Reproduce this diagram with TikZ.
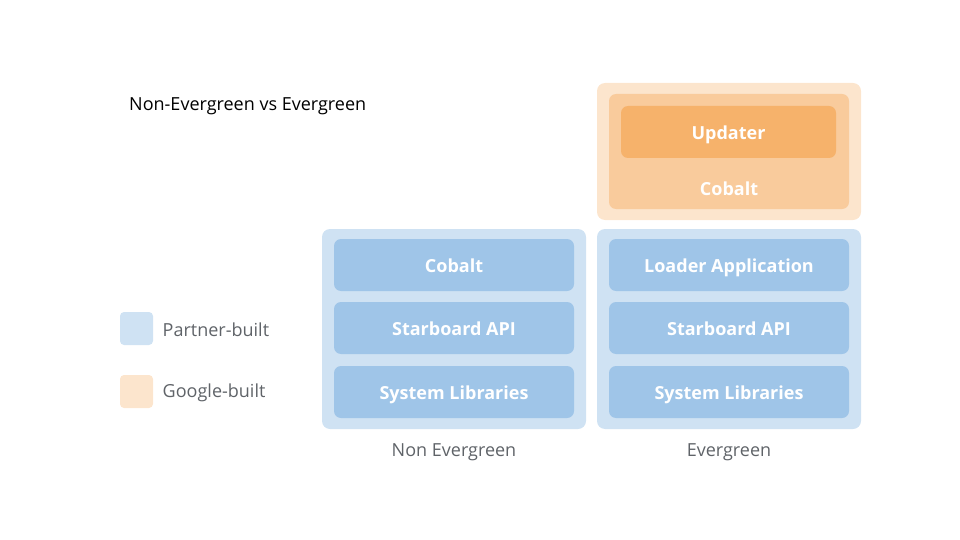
\documentclass[tikz,border=0pt]{standalone}
\usepackage{fontspec}
\setmainfont{Open Sans}
\usetikzlibrary{positioning}
\definecolor{partnerlight}{HTML}{CFE2F3}
\definecolor{partnerdark}{HTML}{9FC5E8}
\definecolor{googlelight}{HTML}{FCE5CD}
\definecolor{googlemid}{HTML}{F9CB9C}
\definecolor{googledark}{HTML}{F6B26B}
\definecolor{labelgray}{HTML}{5F6368}
\tikzset{
    %Define style for outer panels
    panel/.style={
           rectangle,
           rounded corners=8pt,
           minimum width=264pt,
           inner sep=0pt},
    %Define style for layer boxes
    layer/.style={
           rectangle,
           rounded corners=7pt,
           minimum width=240pt,
           minimum height=52pt,
           inner sep=0pt,
           text=white,
           font=\fontsize{18}{20}\selectfont\bfseries,
           text height=15pt,
           text depth=0pt,
           text centered},
    swatch/.style={
           rectangle,
           rounded corners=4pt,
           minimum size=33pt,
           inner sep=0pt},
    caption/.style={
           text=labelgray,
           font=\fontsize{18}{20}\selectfont}
}
\begin{document}
\begin{tikzpicture}[x=1pt,y=-1pt]
\useasboundingbox (0,0) rectangle (960,540);

 %title
\node[anchor=west, inner sep=0pt, font=\fontsize{18}{20}\selectfont] (title) at (129,106.5) {Non-Evergreen vs Evergreen};

 %non evergreen stack
\node[panel, fill=partnerlight, minimum height=200pt] (nonpanel) at (454,329) {};
\node[layer, fill=partnerdark] (noncobalt) at (454,265) {Cobalt};
\node[layer, fill=partnerdark] (nonapi) at (454,328) {Starboard API};
\node[layer, fill=partnerdark] (nonsys) at (454,392) {System Libraries};
\node[caption] (nonlabel) at (454,452.5) {Non Evergreen};

 %evergreen stack
\node[panel, fill=partnerlight, minimum height=200pt] (evpanel) at (729,329) {};
\node[layer, fill=partnerdark] (evloader) at (729,265) {Loader Application};
\node[layer, fill=partnerdark] (evapi) at (729,328) {Starboard API};
\node[layer, fill=partnerdark] (evsys) at (729,392) {System Libraries};
\node[caption] (evlabel) at (729,452.5) {Evergreen};

 %google built part
\node[panel, fill=googlelight, minimum height=137pt] (gpanel) at (729,151.5) {};
\node[layer, fill=googlemid, minimum height=115pt] (gcobalt) at (729,151.5) {};
\node[layer, fill=googledark, minimum width=215pt] (updater) at (728.5,132) {Updater};
\node[layer, minimum height=0pt] (gcobaltlabel) at (729,188) {Cobalt};

 %legend
\node[swatch, fill=partnerlight] (partnerkey) at (136.5,328.5) {};
\node[caption, right=6pt of partnerkey, yshift=-1pt] (partnertext) {Partner-built};
\node[swatch, fill=googlelight] (googlekey) at (136.5,391.5) {};
\node[caption, right=6pt of googlekey, yshift=-1pt] (googletext) {Google-built};
\end{tikzpicture}
\end{document}
